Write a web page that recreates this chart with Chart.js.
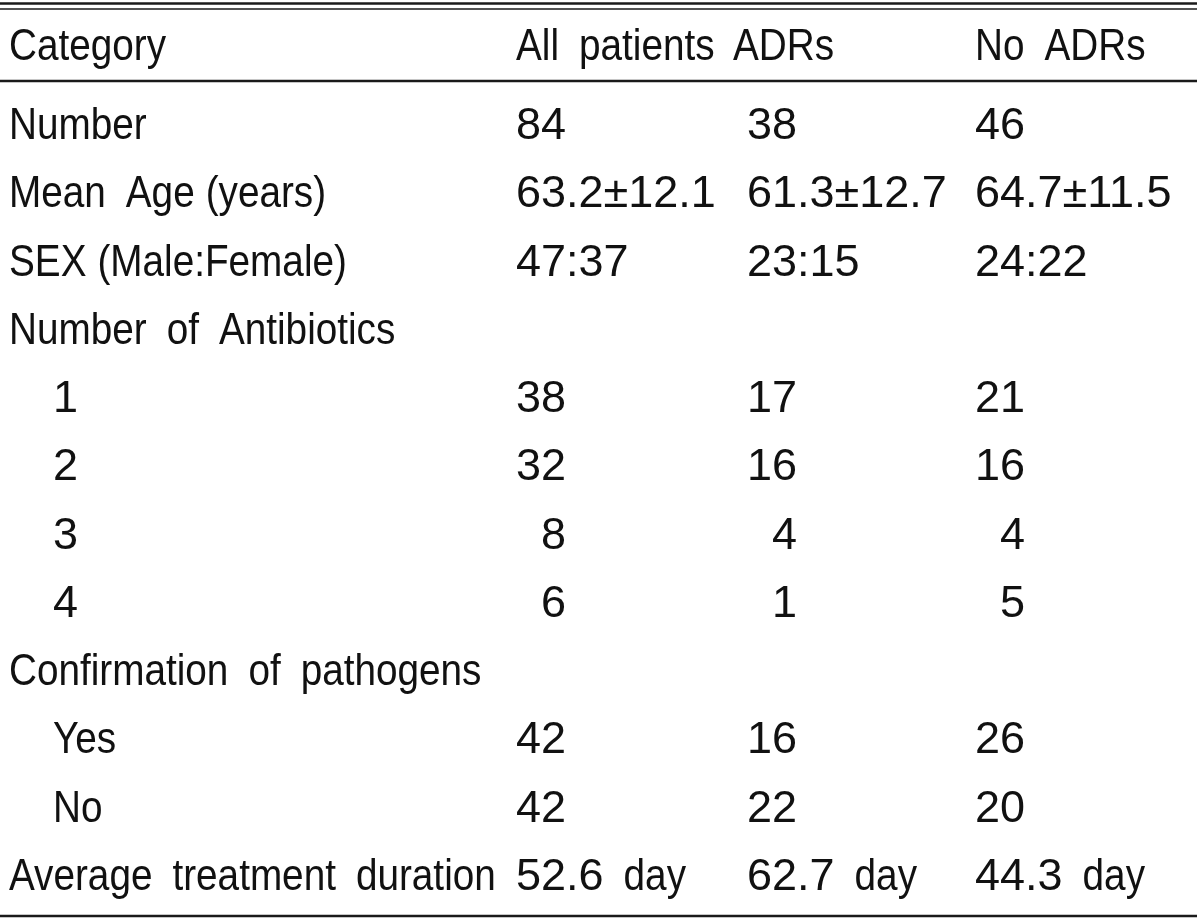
<!DOCTYPE html>
<html>
<head>
<meta charset="utf-8">
<title>Patient characteristics</title>
<script src="https://cdn.jsdelivr.net/npm/chart.js@4/dist/chart.umd.min.js"></script>
<style>
  html, body { margin: 0; padding: 0; background: #fff; }
  #wrap { width: 1200px; height: 920px; }
</style>
</head>
<body>
<div id="wrap"><canvas id="tableChart" width="1200" height="920"></canvas></div>
<script>
  // Table content
  const columnTitles = ["Category", "All patients", "ADRs", "No ADRs"];
  const rowLabels = [
    "Number",
    "Mean Age (years)",
    "SEX (Male:Female)",
    "Number of Antibiotics",
    "1",
    "2",
    "3",
    "4",
    "Confirmation of pathogens",
    "Yes",
    "No",
    "Average treatment duration"
  ];
  const rowIndent = [0, 0, 0, 0, 1, 1, 1, 1, 0, 1, 1, 0];
  const allPatients = [84, "63.2±12.1", "47:37", null, 38, 32, 8, 6, null, 42, 42, "52.6 day"];
  const adrs = [38, "61.3±12.7", "23:15", null, 17, 16, 4, 1, null, 16, 22, "62.7 day"];
  const noAdrs = [46, "64.7±11.5", "24:22", null, 21, 16, 4, 5, null, 26, 20, "44.3 day"];

  // Layout
  const COL_X = [9, 516, 747, 975];
  const HEADER_X = [9, 516, 733, 975];
  const INDENT = 44;
  const FONT = "45px 'Liberation Sans', Arial, sans-serif";
  const WORD_SCALE = 0.86;   // the original face has narrow letters but wide figures
  const WORD_GAP = 20;
  const TIGHT_GAP = 11;
  const TEXT_COLOR = "#111";
  const RULE_COLOR = "#1a1a1a";

  function fmt(v) {
    if (v === null || v === undefined) return "";
    if (typeof v === "number") return String(v).padStart(2, "\u2007");
    return v;
  }

  function columnDataset(values, col) {
    return {
      label: columnTitles[col],
      texts: values.map(fmt),
      data: values.map((v, i) => ({
        x: COL_X[col] + (col === 0 && rowIndent[i] ? INDENT : 0),
        y: i
      })),
      pointRadius: 0,
      pointHoverRadius: 0
    };
  }

  // word by word: letters are squeezed, figures keep their width
  function drawCell(ctx, text, x, y) {
    const words = text.split(" ");
    let cx = x;
    words.forEach((w, k) => {
      const sx = /[A-Za-z]/.test(w) ? WORD_SCALE : 1;
      ctx.save();
      ctx.translate(cx, y + 16);
      ctx.scale(sx, 1);
      ctx.fillText(w, 0, 0);
      ctx.restore();
      cx += ctx.measureText(w).width * sx;
      const next = words[k + 1];
      if (next) cx += next.startsWith("(") ? TIGHT_GAP : WORD_GAP;
    });
  }

  // draws the cell texts at the points placed by the scales, plus the rules
  const tableText = {
    id: "tableText",
    afterDatasetsDraw(chart) {
      const ctx = chart.ctx;
      const area = chart.chartArea;
      ctx.save();
      ctx.font = FONT;
      ctx.fillStyle = TEXT_COLOR;
      ctx.textAlign = "left";
      ctx.textBaseline = "alphabetic";

      chart.data.datasets.forEach((ds, di) => {
        const meta = chart.getDatasetMeta(di);
        meta.data.forEach((pt, j) => {
          const t = ds.texts[j];
          if (t) drawCell(ctx, t, pt.x, pt.y);
        });
      });

      // header row
      const headerY = area.top - 45;
      columnTitles.forEach((t, c) => drawCell(ctx, t, HEADER_X[c], headerY));

      // rules
      ctx.strokeStyle = RULE_COLOR;
      const rule = (y, w) => {
        ctx.lineWidth = w;
        ctx.beginPath();
        ctx.moveTo(0, y);
        ctx.lineTo(1197, y);
        ctx.stroke();
      };
      rule(3.5, 2.5);
      rule(9, 1.5);
      rule(area.top - 8, 2.5);
      rule(area.bottom + 8, 2.5);
      ctx.restore();
    }
  };

  const ctx = document.getElementById("tableChart").getContext("2d");
  const tableChart = new Chart(ctx, {
    type: "scatter",
    data: {
      datasets: [
        columnDataset(rowLabels, 0),
        columnDataset(allPatients, 1),
        columnDataset(adrs, 2),
        columnDataset(noAdrs, 3)
      ]
    },
    options: {
      responsive: false,
      animation: false,
      events: [],
      layout: { padding: { top: 89, bottom: 12, left: 0, right: 0 } },
      scales: {
        x: { type: "linear", min: 0, max: 1200, display: false },
        y: { type: "linear", min: -0.5, max: rowLabels.length - 0.5, reverse: true, display: false }
      },
      plugins: {
        legend: { display: false },
        tooltip: { enabled: false }
      }
    },
    plugins: [tableText]
  });
</script>
</body>
</html>
